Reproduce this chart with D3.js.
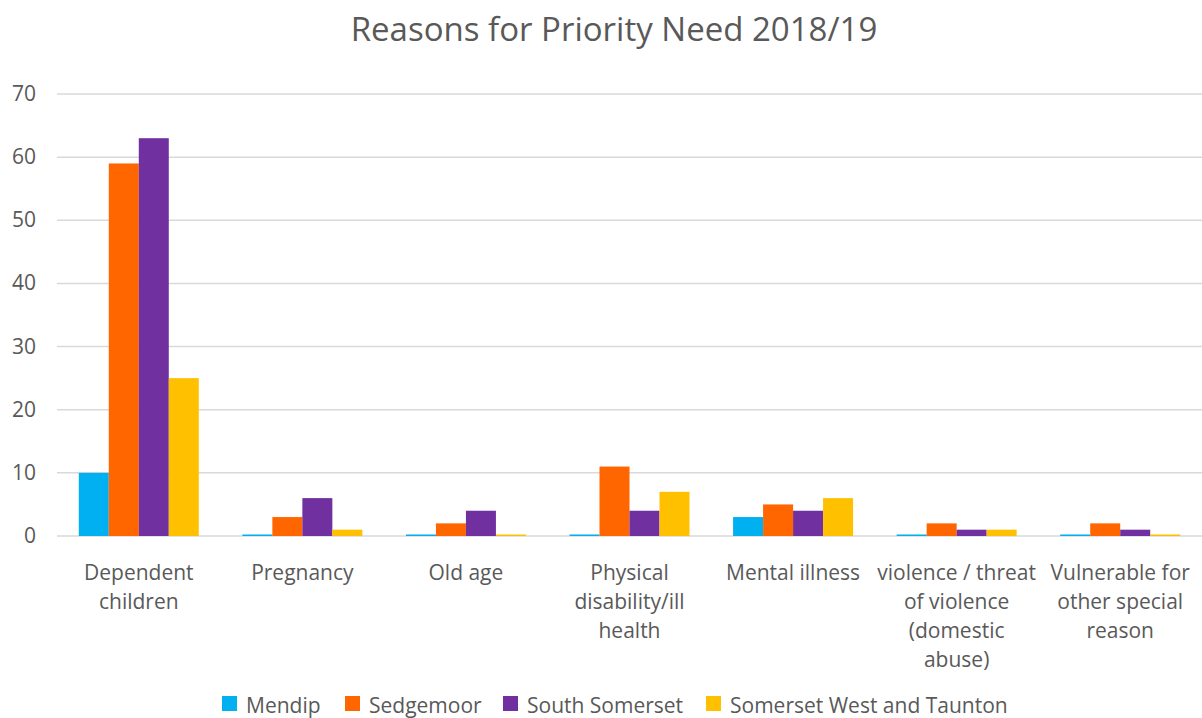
<!DOCTYPE html>
<html><head><meta charset="utf-8">
<script src="https://cdn.jsdelivr.net/npm/d3@7"></script>
<style>body{margin:0;background:#fff;} text{font-family:"Open Sans",sans-serif;fill:#595959;}</style>
</head><body>
<svg id="c" width="1202" height="718"></svg>
<script>
const categories = [
  ["Dependent","children"],
  ["Pregnancy"],
  ["Old age"],
  ["Physical","disability/ill","health"],
  ["Mental illness"],
  ["violence / threat","of violence","(domestic","abuse)"],
  ["Vulnerable for","other special","reason"]
];
const seriesNames = ["Mendip","Sedgemoor","South Somerset","Somerset West and Taunton"];
const colors = ["#00b0f0","#ff6600","#7030a0","#ffc000"];
const mendip = [10,0,0,0,3,0,0];
const sedgemoor = [59,3,2,11,5,2,2];
const southSomerset = [63,6,4,4,4,1,1];
const swt = [25,1,0,7,6,1,0];
const yTicks = [0,10,20,30,40,50,60,70];
const title = "Reasons for Priority Need 2018/19";

const series = [mendip, sedgemoor, southSomerset, swt];
const svg = d3.select("#c");
const pL = 57, pR = 1202, pT = 94, pB = 536;
const x0 = d3.scaleBand().domain(d3.range(categories.length)).range([pL,pR]).paddingInner(0).paddingOuter(0);
const bw = 30;
const x1 = d3.scaleBand().domain(d3.range(series.length)).range([0, bw*4]);
const y = d3.scaleLinear().domain([0,70]).range([pB, pT]);

svg.append("text").attr("x",614).attr("y",41).attr("text-anchor","middle")
  .style("font-size","33px").text(title);

svg.append("g").selectAll("line").data(yTicks).join("line")
  .attr("x1",pL).attr("x2",pR).attr("y1",d=>y(d)).attr("y2",d=>y(d))
  .attr("stroke","#d9d9d9").attr("stroke-width",1.5);
svg.append("g").selectAll("text").data(yTicks).join("text")
  .attr("x",36).attr("y",d=>y(d)+7).attr("text-anchor","end")
  .style("font-size","21px").text(d=>d);

const g = svg.append("g");
series.forEach((s,si)=>{
  g.selectAll(null).data(s).join("rect")
    .attr("x",(d,i)=>x0(i)+(x0.bandwidth()-bw*4)/2 + x1(si))
    .attr("width",x1.bandwidth())
    .attr("y",d=>Math.min(y(d), pB-1.5))
    .attr("height",d=>Math.max(pB-y(d),1.5))
    .attr("fill",colors[si]);
});

const lab = svg.append("g");
categories.forEach((lines,i)=>{
  const t = lab.append("text").attr("text-anchor","middle").style("font-size","21px");
  lines.forEach((ln,j)=>{
    t.append("tspan").attr("x",x0(i)+x0.bandwidth()/2).attr("y",580+j*29).text(ln);
  });
});

const legX = [222,345,503,706];
const leg = svg.append("g");
seriesNames.forEach((n,i)=>{
  leg.append("rect").attr("x",legX[i]).attr("y",696).attr("width",15).attr("height",15).attr("fill",colors[i]);
  leg.append("text").attr("x",legX[i]+24).attr("y",713).style("font-size","21px").text(n);
});
</script>
</body></html>
